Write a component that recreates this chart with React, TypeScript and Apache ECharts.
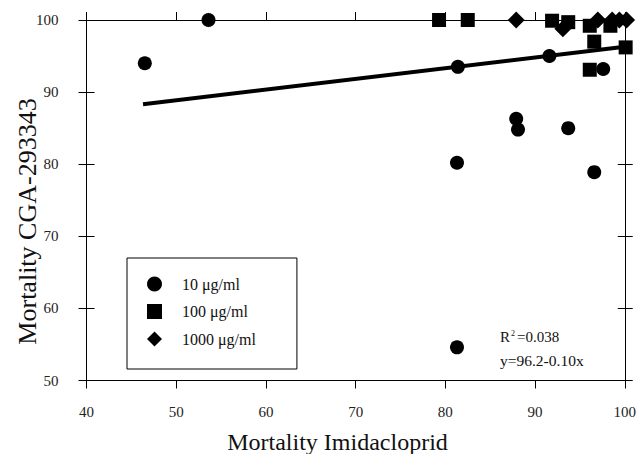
import React, { useEffect, useRef } from "react";
import * as echarts from "echarts";

const xTicks = [40, 100, 10];
const yTicks = [50, 100, 10];

const circleX = [46.5, 53.6, 81.4, 91.6, 97.6, 87.9, 88.1, 93.7, 81.3, 96.6, 81.3];
const circleY = [94.0, 100, 93.5, 95.0, 93.2, 86.3, 84.8, 85.0, 80.2, 78.9, 54.6];
const squareX = [79.3, 82.5, 91.9, 93.7, 96.1, 98.4, 96.6, 100.1, 96.1];
const squareY = [100, 100, 99.9, 99.7, 99.2, 99.2, 97.0, 96.2, 93.1];
const diamondX = [87.9, 93.1, 97.0, 98.6, 99.4, 100.2];
const diamondY = [100, 98.8, 100, 100, 100, 100];
const fitX = [46.3, 100];
const fitY = [88.3, 96.3];

const seriesNames = ["10 μg/ml", "100 μg/ml", "1000 μg/ml"];
const xTitle = "Mortality Imidacloprid";
const yTitle = "Mortality CGA-293343";
const r2Text = "0.038";
const eqText = "y=96.2-0.10x";

const FONT = "'Liberation Serif', 'Times New Roman', serif";

const zip = (xs: number[], ys: number[]) => xs.map((x, i) => [x, ys[i]]);

export default function App() {
  const ref = useRef<HTMLDivElement>(null);
  useEffect(() => {
    if (!ref.current) return;
    const chart = echarts.init(ref.current, undefined, { renderer: "svg" });
    const tick = { show: true, inside: false, length: 8, lineStyle: { color: "#000", width: 1 } };
    const line = { show: true, lineStyle: { color: "#000", width: 1 } };
    const noLabel = { show: false };
    const xBase = { type: "value", min: xTicks[0], max: xTicks[1], interval: xTicks[2], splitLine: { show: false } };
    const yBase = { type: "value", min: yTicks[0], max: yTicks[1], interval: yTicks[2], splitLine: { show: false } };
    chart.setOption({
      animation: false,
      textStyle: { fontFamily: FONT },
      grid: { left: 86.5, right: 11, top: 20, bottom: 73.5, containLabel: false },
      xAxis: [
        {
          ...xBase,
          position: "bottom",
          axisLine: line,
          axisTick: tick,
          axisLabel: { show: true, margin: 24, fontSize: 15, color: "#222", fontFamily: FONT },
        },
        {
          ...xBase,
          position: "top",
          axisLine: line,
          axisTick: tick,
          axisLabel: noLabel,
        },
      ],
      yAxis: [
        {
          ...yBase,
          position: "left",
          offset: -8,
          axisLine: { show: false },
          axisTick: { ...tick, length: 16 },
          axisLabel: { show: true, margin: 36, fontSize: 15, color: "#222", fontFamily: FONT },
        },
        {
          ...yBase,
          position: "left",
          axisLine: line,
          axisTick: { show: false },
          axisLabel: noLabel,
        },
        {
          ...yBase,
          position: "right",
          offset: -7,
          axisLine: { show: false },
          axisTick: { ...tick, length: 15 },
          axisLabel: noLabel,
        },
        {
          ...yBase,
          position: "right",
          axisLine: line,
          axisTick: { show: false },
          axisLabel: noLabel,
        },
      ],
      legend: {
        orient: "vertical",
        left: 127,
        top: 258,
        data: [
          { name: seriesNames[0], icon: "circle" },
          { name: seriesNames[1], icon: "rect" },
          { name: seriesNames[2], icon: "diamond" },
        ],
        itemWidth: 15,
        itemHeight: 15,
        itemGap: 11.5,
        padding: [18, 41, 22, 20],
        borderColor: "#000",
        borderWidth: 1,
        borderRadius: 0,
        backgroundColor: "#fff",
        textStyle: { fontSize: 16, color: "#111", fontFamily: FONT, lineHeight: 16, padding: [0, 0, 0, 15] },
      },
      graphic: [
        {
          type: "text",
          x: 337.5,
          y: 442,
          style: { text: xTitle, fontSize: 24, fontFamily: FONT, fill: "#111", align: "center", verticalAlign: "middle" },
        },
        {
          type: "text",
          x: 27,
          y: 221.5,
          rotation: Math.PI / 2,
          style: { text: yTitle, fontSize: 26, fontFamily: FONT, fill: "#111", align: "center", verticalAlign: "middle" },
        },
        {
          type: "text",
          left: 500,
          top: 329,
          style: {
            text: "R{s|2}=" + r2Text,
            fontSize: 15,
            fontFamily: FONT,
            fill: "#111",
            rich: { s: { fontSize: 8, fontFamily: FONT, fill: "#111", verticalAlign: "top", padding: [0, 2, 0, 1] } },
          },
        },
        {
          type: "text",
          left: 500,
          top: 352,
          style: { text: eqText, fontSize: 15.5, fontFamily: FONT, fill: "#111" },
        },
      ],
      series: [
        {
          type: "line",
          data: zip(fitX, fitY),
          showSymbol: false,
          symbol: "none",
          lineStyle: { color: "#000", width: 4 },
          z: 1,
          silent: true,
        },
        {
          name: seriesNames[0],
          type: "scatter",
          data: zip(circleX, circleY),
          symbol: "circle",
          symbolSize: 14,
          itemStyle: { color: "#000", opacity: 1 },
          clip: false,
          z: 3,
        },
        {
          name: seriesNames[1],
          type: "scatter",
          data: zip(squareX, squareY),
          symbol: "rect",
          symbolSize: 14,
          itemStyle: { color: "#000", opacity: 1 },
          clip: false,
          z: 3,
        },
        {
          name: seriesNames[2],
          type: "scatter",
          data: zip(diamondX, diamondY),
          symbol: "diamond",
          symbolSize: 17,
          itemStyle: { color: "#000", opacity: 1 },
          clip: false,
          z: 3,
        },
      ],
    });
    return () => chart.dispose();
  }, []);
  return <div ref={ref} style={{ width: 639, height: 454, position: "absolute", left: 0, top: 0, background: "#fff" }} />;
}
